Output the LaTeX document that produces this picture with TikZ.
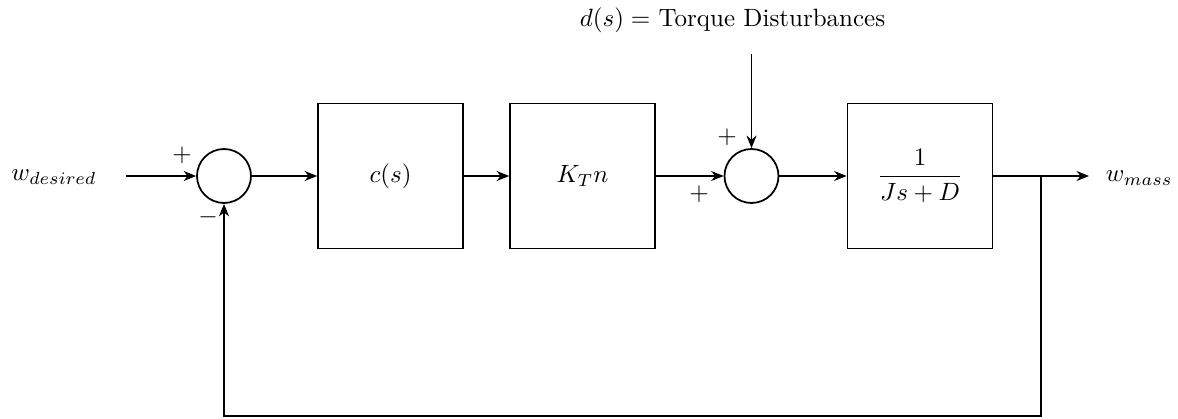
\documentclass[tikz,border=0pt]{standalone}
\usetikzlibrary{arrows.meta}
\begin{document}
\begin{tikzpicture}[x=0.4pt,y=-0.4pt,
  line width=0.7pt,
  blk/.style={draw,line width=0.7pt,rectangle,minimum width=58pt,minimum height=58pt,inner sep=0pt},
  sumnode/.style={draw,line width=0.7pt,circle,minimum size=21.6pt,inner sep=0pt},
  sig/.style={-{Stealth[length=5pt,width=4pt]}},
  lbl/.style={inner sep=0pt}]
\useasboundingbox (0,0) rectangle (1178,419);
\node[lbl] (win) at (54,177) {$w_{desired}$};
\coordinate (inp) at (126,176);
\node[sumnode] (s1) at (224,176) {};
\node[blk] (c) at (390.5,176) {$c(s)$};
\node[blk] (k) at (582.5,176) {$K_T n$};
\node[sumnode] (s2) at (751.5,176) {};
\node[blk] (g) at (920,176) {$\displaystyle\frac{1}{Js+D}$};
\node[lbl,anchor=west] (wout) at (1105,178) {$w_{mass}$};
\coordinate (br) at (1041,176);
\coordinate (tip) at (1089,176);
\coordinate (bR) at (1041,416);
\coordinate (bL) at (224,416);
\coordinate (dtop) at (751.5,54);
\node[lbl] (dlbl) at (732.5,20) {$d(s) =$ Torque Disturbances};
\node[lbl] (p1) at (182,155) {$+$};
\node[lbl] (m1) at (208,217) {$-$};
\node[lbl] (p2) at (727,137) {$+$};
\node[lbl] (p3) at (699,194) {$+$};
\draw[sig] (inp) -- (s1.west);
\draw[sig] (s1.east) -- (c.west);
\draw[sig] (c.east) -- (k.west);
\draw[sig] (k.east) -- (s2.west);
\draw[sig] (dtop) -- (s2.north);
\draw[sig] (s2.east) -- (g.west);
\draw[sig] (g.east) -- (tip);
\draw[sig] (br) -- (bR) -- (bL) -- (s1.south);
\end{tikzpicture}
\end{document}
